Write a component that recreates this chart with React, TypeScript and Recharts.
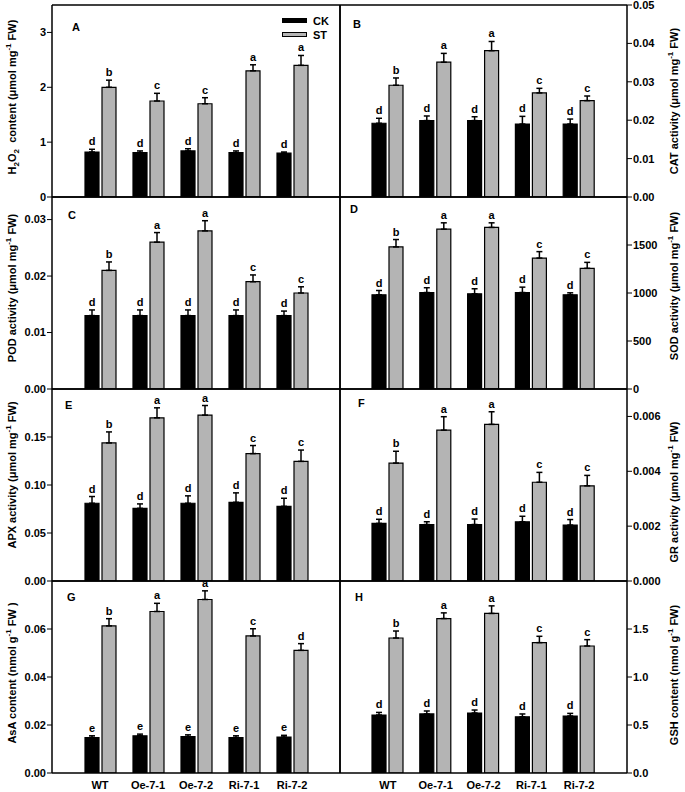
import React from "react";
import { BarChart, Bar, XAxis, YAxis, ErrorBar, LabelList } from "recharts";

const FONT = '"Liberation Sans", Arial, sans-serif';
const CATS = ["WT", "Oe-7-1", "Oe-7-2", "Ri-7-1", "Ri-7-2"];

// A: H2O2
const H2O2_CK = [0.82, 0.81, 0.84, 0.81, 0.8];
const H2O2_CK_ERR = [0.05, 0.03, 0.04, 0.03, 0.02];
const H2O2_ST = [2.0, 1.75, 1.7, 2.3, 2.4];
const H2O2_ST_ERR = [0.13, 0.14, 0.11, 0.11, 0.18];
const H2O2_ST_LET = ["b", "c", "c", "a", "a"];

// B: CAT
const CAT_CK = [0.0192, 0.0199, 0.0199, 0.019, 0.019];
const CAT_CK_ERR = [0.0013, 0.0012, 0.001, 0.002, 0.0013];
const CAT_ST = [0.0291, 0.0351, 0.0381, 0.0271, 0.0251];
const CAT_ST_ERR = [0.0019, 0.0023, 0.0024, 0.0012, 0.0012];
const CAT_ST_LET = ["b", "a", "a", "c", "c"];

// C: POD
const POD_CK = [0.013, 0.013, 0.013, 0.013, 0.013];
const POD_CK_ERR = [0.001, 0.001, 0.001, 0.001, 0.0008];
const POD_ST = [0.021, 0.026, 0.028, 0.019, 0.017];
const POD_ST_ERR = [0.0015, 0.0017, 0.0018, 0.0012, 0.0011];
const POD_ST_LET = ["b", "a", "a", "c", "c"];

// D: SOD
const SOD_CK = [981, 1005, 991, 1005, 981];
const SOD_CK_ERR = [45, 50, 53, 56, 21];
const SOD_ST = [1480, 1665, 1683, 1364, 1257];
const SOD_ST_ERR = [77, 66, 48, 67, 62];
const SOD_ST_LET = ["b", "a", "a", "c", "c"];

// E: APX
const APX_CK = [0.081, 0.0757, 0.081, 0.082, 0.0778];
const APX_CK_ERR = [0.007, 0.0046, 0.0077, 0.0098, 0.0084];
const APX_ST = [0.1438, 0.17, 0.1728, 0.1327, 0.1246];
const APX_ST_ERR = [0.0115, 0.0104, 0.01, 0.0084, 0.0118];
const APX_ST_LET = ["b", "a", "a", "c", "c"];

// F: GR
const GR_CK = [0.0021, 0.00206, 0.00206, 0.00216, 0.00204];
const GR_CK_ERR = [0.00015, 0.0001, 0.0002, 0.0002, 0.0002];
const GR_ST = [0.0043, 0.0055, 0.00571, 0.0036, 0.00347];
const GR_ST_ERR = [0.00043, 0.00049, 0.00046, 0.00036, 0.00038];
const GR_ST_LET = ["b", "a", "a", "c", "c"];

// G: AsA
const ASA_CK = [0.0148, 0.0155, 0.0152, 0.0148, 0.015];
const ASA_CK_ERR = [0.0007, 0.0007, 0.0007, 0.0007, 0.0007];
const ASA_ST = [0.0613, 0.0673, 0.0723, 0.0571, 0.0511];
const ASA_ST_ERR = [0.003, 0.0034, 0.0036, 0.003, 0.0028];
const ASA_CK_LET = ["e", "e", "e", "e", "e"];
const ASA_ST_LET = ["b", "a", "a", "c", "d"];

// H: GSH
const GSH_CK = [0.604, 0.615, 0.625, 0.586, 0.594];
const GSH_CK_ERR = [0.027, 0.031, 0.031, 0.029, 0.027];
const GSH_ST = [1.406, 1.609, 1.662, 1.358, 1.323];
const GSH_ST_ERR = [0.073, 0.059, 0.079, 0.066, 0.066];
const GSH_ST_LET = ["b", "a", "a", "c", "c"];

const D_LET = ["d", "d", "d", "d", "d"];

const ROW_TOPS = [5, 197, 389, 581];
const PLOT_H = 192;
const ST_GRAY = "#b4b4b4";

function letterLabel(vals: number[], errs: number[], lets: string[]) {
  return (props: any) => {
    const vb = props.viewBox || props;
    const i = props.index;
    if (i == null || vb == null) return null;
    const h = Math.abs(vb.height);
    const top = Math.min(vb.y, vb.y + vb.height);
    const errTop = top - (errs[i] * h) / vals[i];
    return (
      <text
        x={vb.x + vb.width / 2}
        y={errTop - 4}
        textAnchor="middle"
        fontSize={11}
        fontWeight="bold"
        fontFamily={FONT}
        fill="#000"
      >
        {lets[i]}
      </text>
    );
  };
}

type PanelProps = {
  ck: number[];
  ckErr: number[];
  st: number[];
  stErr: number[];
  ckLet: string[];
  stLet: string[];
  domain: [number, number];
  ticks: number[];
  decimals: number;
  side: "left" | "right";
  row: number;
};

function Panel(p: PanelProps) {
  const left = p.side === "left";
  const isBottom = p.row === 3;
  const top = ROW_TOPS[p.row];
  const width = left ? 345 : 350;
  const height = 8 + PLOT_H + (isBottom ? 26 : 8);
  const data = CATS.map((name, i) => ({
    name,
    ck: p.ck[i],
    st: p.st[i],
    ckE: [0, p.ckErr[i]],
    stE: [0, p.stErr[i]],
  }));
  const line = { stroke: "#000", strokeWidth: 1.5 };
  return (
    <div style={{ position: "absolute", left: left ? 0 : 335, top: top - 8, width, height }}>
      <BarChart
        width={width}
        height={height}
        data={data}
        margin={{ top: 7, right: left ? 4 : 0, bottom: isBottom ? 0 : 7, left: left ? 0 : 4 }}
        barSize={14}
        barGap={3}
      >
        <XAxis
          dataKey="name"
          padding={{ left: 24, right: 24 }}
          height={isBottom ? 26 : 1}
          tick={isBottom ? { fill: "#000", fontSize: 11, fontWeight: "bold", fontFamily: FONT } : false}
          tickLine={false}
          tickSize={6}
          tickMargin={2}
          axisLine={line}
          interval={0}
        />
        <XAxis
          xAxisId="t"
          dataKey="name"
          orientation="top"
          height={1}
          tick={false}
          tickLine={false}
          axisLine={line}
        />
        <YAxis
          yAxisId="v"
          orientation={left ? "left" : "right"}
          width={left ? 52 : 58}
          domain={p.domain}
          ticks={p.ticks}
          interval={0}
          allowDataOverflow
          tickFormatter={(v: number) => v.toFixed(p.decimals)}
          tick={{ fill: "#000", fontSize: 11, fontWeight: "bold", fontFamily: FONT }}
          tickSize={5}
          tickMargin={1}
          tickLine={{ stroke: "#000", strokeWidth: 1 }}
          axisLine={line}
        />
        <YAxis
          yAxisId="f"
          orientation={left ? "right" : "left"}
          width={1}
          domain={[0, 1]}
          ticks={[0, 1]}
          tick={false}
          tickLine={false}
          axisLine={line}
        />
        <Bar yAxisId="v" dataKey="ck" fill="#000" stroke="#000" strokeWidth={1.2} isAnimationActive={false}>
          <ErrorBar dataKey="ckE" direction="y" width={3} stroke="#000" strokeWidth={1.5} />
          <LabelList dataKey="ck" content={letterLabel(p.ck, p.ckErr, p.ckLet)} />
        </Bar>
        <Bar yAxisId="v" dataKey="st" fill={ST_GRAY} stroke="#000" strokeWidth={1.2} isAnimationActive={false}>
          <ErrorBar dataKey="stE" direction="y" width={3} stroke="#000" strokeWidth={1.5} />
          <LabelList dataKey="st" content={letterLabel(p.st, p.stErr, p.stLet)} />
        </Bar>
      </BarChart>
    </div>
  );
}

const textStyle: React.CSSProperties = {
  position: "absolute",
  fontFamily: FONT,
  fontWeight: "bold",
  fontSize: 11,
  color: "#000",
  lineHeight: "12px",
  whiteSpace: "pre",
};

const subStyle: React.CSSProperties = { fontSize: 8, verticalAlign: "-3px", lineHeight: 0 };
const supStyle: React.CSSProperties = { fontSize: 8, verticalAlign: "5px", lineHeight: 0 };

function Title({ cx, cy, children }: { cx: number; cy: number; children: React.ReactNode }) {
  return (
    <div
      style={{
        ...textStyle,
        left: cx,
        top: cy,
        transform: "translate(-50%, -50%) rotate(-90deg)",
      }}
    >
      {children}
    </div>
  );
}

function Tag({ x, y, t }: { x: number; y: number; t: string }) {
  return <div style={{ ...textStyle, left: x, top: y - 6 }}>{t}</div>;
}

const umol = (
  <>
    (μmol mg<span style={supStyle}>-1</span> FW)
  </>
);

export default function App() {
  return (
    <div style={{ position: "absolute", left: 0, top: 0, width: 685, height: 792, background: "#fff" }}>
      <Panel ck={H2O2_CK} ckErr={H2O2_CK_ERR} st={H2O2_ST} stErr={H2O2_ST_ERR} ckLet={D_LET} stLet={H2O2_ST_LET}
        domain={[0, 3.5]} ticks={[0, 1, 2, 3]} decimals={0} side="left" row={0} />
      <Panel ck={CAT_CK} ckErr={CAT_CK_ERR} st={CAT_ST} stErr={CAT_ST_ERR} ckLet={D_LET} stLet={CAT_ST_LET}
        domain={[0, 0.05]} ticks={[0, 0.01, 0.02, 0.03, 0.04, 0.05]} decimals={2} side="right" row={0} />
      <Panel ck={POD_CK} ckErr={POD_CK_ERR} st={POD_ST} stErr={POD_ST_ERR} ckLet={D_LET} stLet={POD_ST_LET}
        domain={[0, 0.034]} ticks={[0, 0.01, 0.02, 0.03]} decimals={2} side="left" row={1} />
      <Panel ck={SOD_CK} ckErr={SOD_CK_ERR} st={SOD_ST} stErr={SOD_ST_ERR} ckLet={D_LET} stLet={SOD_ST_LET}
        domain={[0, 2000]} ticks={[0, 500, 1000, 1500]} decimals={0} side="right" row={1} />
      <Panel ck={APX_CK} ckErr={APX_CK_ERR} st={APX_ST} stErr={APX_ST_ERR} ckLet={D_LET} stLet={APX_ST_LET}
        domain={[0, 0.2]} ticks={[0, 0.05, 0.1, 0.15]} decimals={2} side="left" row={2} />
      <Panel ck={GR_CK} ckErr={GR_CK_ERR} st={GR_ST} stErr={GR_ST_ERR} ckLet={D_LET} stLet={GR_ST_LET}
        domain={[0, 0.007]} ticks={[0, 0.002, 0.004, 0.006]} decimals={3} side="right" row={2} />
      <Panel ck={ASA_CK} ckErr={ASA_CK_ERR} st={ASA_ST} stErr={ASA_ST_ERR} ckLet={ASA_CK_LET} stLet={ASA_ST_LET}
        domain={[0, 0.08]} ticks={[0, 0.02, 0.04, 0.06]} decimals={2} side="left" row={3} />
      <Panel ck={GSH_CK} ckErr={GSH_CK_ERR} st={GSH_ST} stErr={GSH_ST_ERR} ckLet={D_LET} stLet={GSH_ST_LET}
        domain={[0, 2]} ticks={[0, 0.5, 1, 1.5]} decimals={1} side="right" row={3} />

      {/* panel letters */}
      <Tag x={72} y={27} t="A" />
      <Tag x={353} y={24} t="B" />
      <Tag x={68} y={215} t="C" />
      <Tag x={350} y={209} t="D" />
      <Tag x={65} y={405} t="E" />
      <Tag x={358} y={403} t="F" />
      <Tag x={67} y={597} t="G" />
      <Tag x={355} y={597} t="H" />

      {/* legend */}
      <div style={{ position: "absolute", left: 282, top: 18, width: 25, height: 5, background: "#000" }} />
      <Tag x={313} y={21} t="CK" />
      <div style={{ position: "absolute", left: 282, top: 32, width: 23, height: 3, background: ST_GRAY, border: "1px solid #000" }} />
      <Tag x={313} y={35} t="ST" />

      {/* axis titles */}
      <Title cx={12} cy={97}>
        H<span style={subStyle}>2</span>O<span style={subStyle}>2</span>{"  content "}{umol}
      </Title>
      <Title cx={674} cy={101}>CAT activity {umol}</Title>
      <Title cx={12} cy={288}>POD activity {umol}</Title>
      <Title cx={674} cy={286}>SOD activity {umol}</Title>
      <Title cx={12} cy={475}>APX activity {umol}</Title>
      <Title cx={674} cy={492}>GR activity {umol}</Title>
      <Title cx={12} cy={673}>
        AsA content (nmol g<span style={supStyle}>-1</span> FW )
      </Title>
      <Title cx={674} cy={675}>
        GSH content (nmol g<span style={supStyle}>-1</span> FW)
      </Title>
    </div>
  );
}
